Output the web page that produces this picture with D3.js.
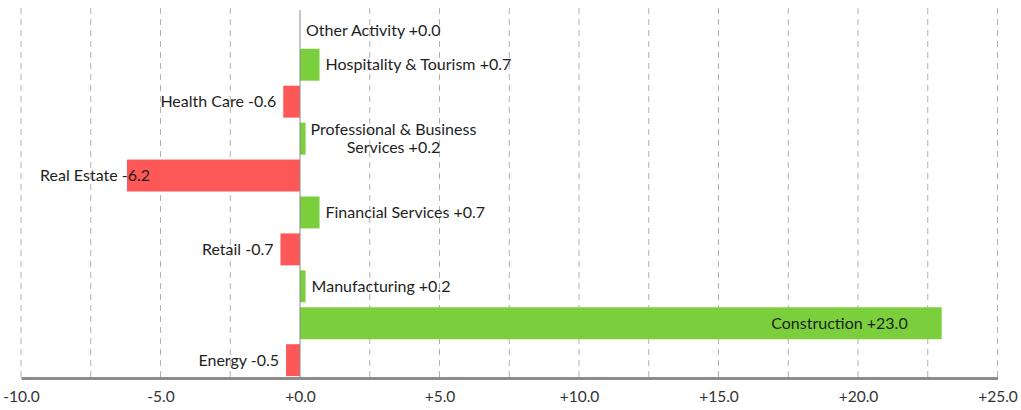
<!DOCTYPE html>
<html>
<head>
<meta charset="utf-8">
<script src="https://cdn.jsdelivr.net/npm/d3@7"></script>
<style>
  html, body { margin: 0; padding: 0; background: #fff; }
  svg { display: block; font-family: Lato, "Open Sans", sans-serif; }
</style>
</head>
<body>
<svg id="chart"></svg>
<script>
// sectors, top to bottom
const sectors = [
  "Other Activity",
  "Hospitality & Tourism",
  "Health Care",
  "Professional & Business Services",
  "Real Estate",
  "Financial Services",
  "Retail",
  "Manufacturing",
  "Construction",
  "Energy"
];
const changes = [0.0, 0.7, -0.6, 0.2, -6.2, 0.7, -0.7, 0.2, 23.0, -0.5];
const tickValues = [-10, -5, 0, 5, 10, 15, 20, 25];
const gridValues = [-10, -7.5, -5, -2.5, 0, 2.5, 5, 7.5, 10, 12.5, 15, 17.5, 20, 22.5, 25];

const width = 1021, height = 410;
const data = sectors.map((s, i) => ({ name: s, value: changes[i] }));

const svg = d3.select("#chart").attr("width", width).attr("height", height);

const x = d3.scaleLinear().domain([-10, 25]).range([21, 997.5]);
const y = d3.scaleBand().domain(sectors).range([10, 378]).paddingInner(0.135).paddingOuter(0.05);

const fmt = v => (v < 0 ? "-" : "+") + d3.format(".1f")(Math.abs(v));

// grid lines
svg.append("g").selectAll("line")
  .data(gridValues.filter(d => d !== 0))
  .enter().append("line")
  .attr("x1", d => x(d)).attr("x2", d => x(d))
  .attr("y1", 8).attr("y2", 377)
  .attr("stroke", "#b0b0b0")
  .attr("stroke-width", 1)
  .attr("stroke-dasharray", "6,5");

// bars
svg.append("g").selectAll("rect")
  .data(data)
  .enter().append("rect")
  .attr("x", d => x(Math.min(0, d.value)))
  .attr("y", d => y(d.name))
  .attr("width", d => Math.abs(x(d.value) - x(0)))
  .attr("height", y.bandwidth())
  .attr("fill", d => d.value < 0 ? "#fe5757" : "#7ccf3c");

// zero line
svg.append("line")
  .attr("x1", x(0)).attr("x2", x(0))
  .attr("y1", 10).attr("y2", 378)
  .attr("stroke", "#8a8a8a")
  .attr("stroke-width", 1);

// labels
const labels = svg.append("g")
  .style("font-size", "16px")
  .attr("fill", "#1e1e1e");

data.forEach(d => {
  const cy = y(d.name) + y.bandwidth() / 2;
  const txt = `${d.name} ${fmt(d.value)}`;
  if (d.name === "Professional & Business Services") {
    // wrapped label, centered lines
    const t = labels.append("text").attr("text-anchor", "middle");
    const l1 = t.append("tspan").attr("y", cy - 4).text("Professional & Business");
    const l2 = t.append("tspan").attr("y", cy + 14).text(`Services ${fmt(d.value)}`);
    const w = Math.max(l1.node().getComputedTextLength(), l2.node().getComputedTextLength());
    const cx = x(d.value) + 5 + w / 2;
    l1.attr("x", cx); l2.attr("x", cx);
    return;
  }
  let xp, anchor;
  if (d.value > 20) { xp = x(d.value) - 34; anchor = "end"; }
  else if (d.value < -5) { xp = x(d.value) + 23; anchor = "end"; }
  else if (d.value < 0) { xp = x(d.value) - 7; anchor = "end"; }
  else { xp = x(d.value) + 6; anchor = "start"; }
  labels.append("text")
    .attr("x", xp)
    .attr("y", d.value === 0 ? cy + 3 : cy)
    .attr("dy", "0.35em")
    .attr("text-anchor", anchor)
    .text(txt);
});

// x axis
const axis = svg.append("g")
  .attr("transform", `translate(0,378)`)
  .call(d3.axisBottom(x).tickValues(tickValues).tickSize(0).tickPadding(13).tickFormat(d => d === 0 ? "+0.0" : fmt(d)));
axis.select(".domain").attr("stroke", "#8c8c8c").attr("stroke-width", 3);
axis.selectAll("text").style("font-size", "15.5px").style("font-family", "Lato, sans-serif").attr("fill", "#333");
</script>
</body>
</html>
